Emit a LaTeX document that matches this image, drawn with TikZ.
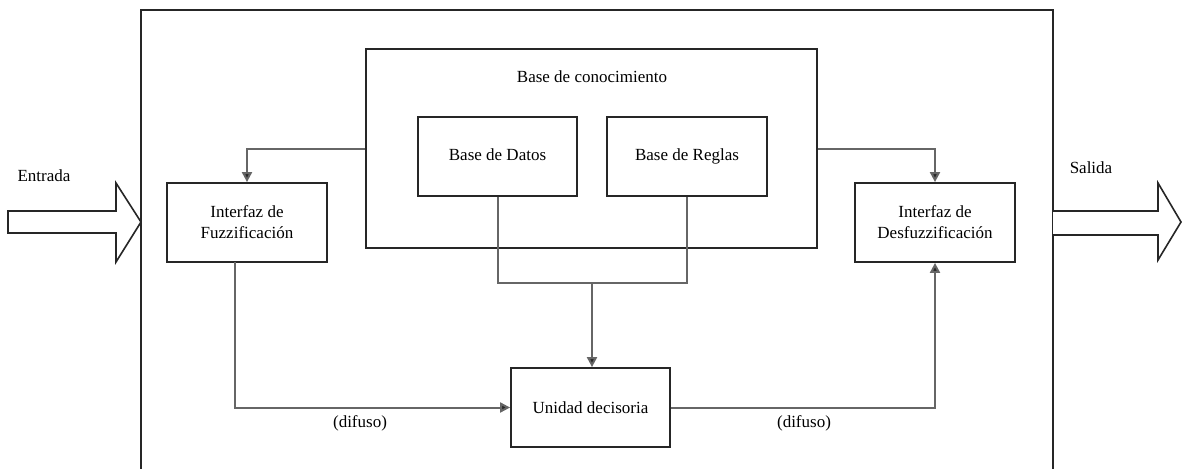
\documentclass[tikz,border=0pt]{standalone}
\usepackage{fontspec}
\setmainfont{Liberation Serif}
\usetikzlibrary{arrows.meta}
\begin{document}
\begin{tikzpicture}[x=1pt,y=-1pt,
  box/.style={draw=black!85, line width=1.8pt, fill=white, inner sep=0pt,
    font=\fontsize{17}{21}\selectfont, align=center},
  conn/.style={draw=black!60, line width=2pt},
  arr/.style={conn, -{Triangle[length=10pt,width=10pt,fill=black!85]}},
  lbl/.style={font=\fontsize{17}{21}\selectfont, inner sep=0pt},
  bigarrow/.style={draw=black!85, line width=1.6pt, fill=white, line join=miter}]
\useasboundingbox (0,0) rectangle (1182,468);
% outer frame (open at bottom)
\draw[black!85, line width=1.8pt] (141,470) -- (141,10) -- (1053,10) -- (1053,470);
% knowledge base
\node[box, minimum width=451pt, minimum height=199pt] (kb) at (591.5,148.5) {};
\node[lbl] (kbt) at (592,77) {Base de conocimiento};
\node[box, minimum width=159pt, minimum height=79pt] (datos) at (497.5,156.5) {\strut Base de Datos};
\node[box, minimum width=160pt, minimum height=79pt] (reglas) at (687,156.5) {\strut Base de Reglas};
% interfaces
\node[box, minimum width=160pt, minimum height=79pt] (fuzz) at (247,222.5) {Interfaz de\\Fuzzificación};
\node[box, minimum width=160pt, minimum height=79pt] (desf) at (935,222.5) {Interfaz de\\Desfuzzificación};
\node[box, minimum width=159pt, minimum height=79pt] (unidad) at (590.5,407.5) {Unidad decisoria};
% connectors
\coordinate (fzout) at (235,262);
\draw[arr] (kb.west) -| (fuzz.north);
\draw[arr] (kb.east) -| (desf.north);
\coordinate (jn) at (592,283);
\draw[conn] (datos.south) |- (jn) -| (reglas.south);
\draw[arr] (jn) -- (unidad.north -| jn);
\draw[arr] (fzout) |- (unidad.west);
\draw[arr] (unidad.east) -| (desf.south);
\node[lbl] (d1) at (360,423) {(difuso)};
\node[lbl] (d2) at (804,423) {(difuso)};
% input / output arrows
\draw[bigarrow] (8,211) -- (116,211) -- (116,183) -- (141,222) -- (116,262) -- (116,233) -- (8,233) -- cycle;
\draw[bigarrow] (1053,211) -- (1158,211) -- (1158,183) -- (1181,222) -- (1158,260) -- (1158,235) -- (1053,235);
\node[lbl] (in) at (44,176) {Entrada};
\node[lbl] (out) at (1091,168) {Salida};
\end{tikzpicture}
\end{document}
